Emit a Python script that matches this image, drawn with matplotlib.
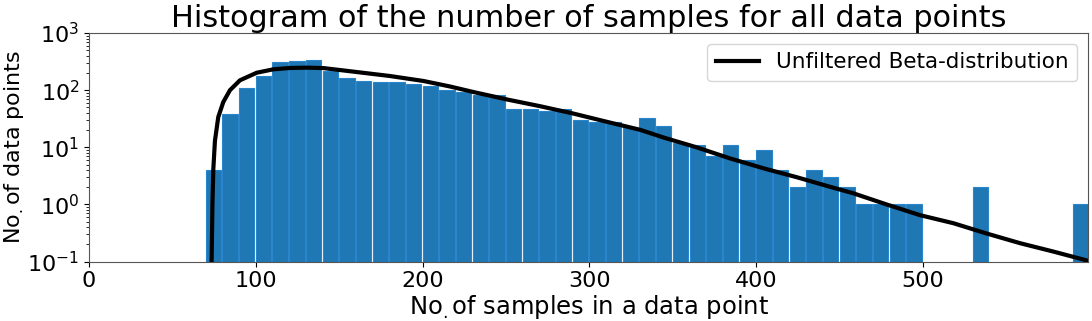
import numpy as np
import matplotlib
matplotlib.use("Agg")
import matplotlib.pyplot as plt

# Histogram bins (left edges, width 10) and counts
bin_left = [70, 80, 90, 100, 110, 120, 130, 140, 150, 160, 170, 180, 190,
            200, 210, 220, 230, 240, 250, 260, 270, 280, 290, 300, 310, 320,
            330, 340, 350, 360, 370, 380, 390, 400, 410, 420, 430, 440, 450,
            460, 470, 480, 490, 530, 590]
counts = [4, 38, 108, 180, 308, 324, 337, 220, 166, 143, 139, 137, 126,
          118, 100, 93, 81, 83, 46, 46, 44, 46, 30, 28, 28, 22,
          33, 24, 12, 11, 7, 11, 6, 9, 4, 2, 4, 3, 2,
          1, 1, 1, 1, 2, 1]
bin_width = 10

# Fitted (unfiltered) Beta-distribution curve
beta_x = [73.5, 74.0, 74.5, 75.5, 77.5, 80.5, 84.5, 90.5, 100.5, 110.5,
          120.5, 130.5, 140.5, 160.5, 180.5, 200.5, 216.5, 230.4, 250.4,
          270.4, 290.4, 310.4, 330.3, 344.3, 364.3, 384.3, 404.3, 424.3,
          444.2, 458.2, 478.2, 498.2, 518.2, 538.2, 558.2, 578.1, 598.1, 599.5]
beta_y = [0.1, 1.0, 4.0, 13.0, 34.0, 62.0, 100.0, 149.0, 202.0, 232.0,
          245.0, 248.0, 244.0, 208.0, 177.0, 145.0, 116.0, 93.0, 69.0,
          52.5, 39.0, 28.0, 20.3, 14.9, 10.0, 6.4, 4.3, 3.0,
          2.04, 1.57, 1.0, 0.65, 0.47, 0.31, 0.21, 0.15, 0.105, 0.08]

x_ticks = [0, 100, 200, 300, 400, 500]

fig = plt.figure(figsize=(10.92, 3.21), dpi=100)
ax = fig.add_axes([0.0815, 0.185, 0.915, 0.712])

ax.bar(bin_left, counts, width=bin_width * 0.92, align='edge',
       color='#1f77b4', edgecolor='#2a86cc', linewidth=0.8, zorder=1)
ax.plot(beta_x, beta_y, color='black', linewidth=3,
        label='Unfiltered Beta-distribution', zorder=3)

ax.set_yscale('log')
ax.set_ylim(0.1, 1000)
ax.set_xlim(0, 599)
ax.set_xticks(x_ticks)
ax.tick_params(axis='both', labelsize=16)
ax.set_title('Histogram of the number of samples for all data points',
             fontsize=21.8, pad=3)
ax.set_xlabel(r'No$_.$of samples in a data point', fontsize=17.5, labelpad=1)
ax.set_ylabel(r'No$_.$of data points', fontsize=16, labelpad=1)
ax.legend(loc='upper right', fontsize=15.5, framealpha=0.8)
for s in ax.spines.values():
    s.set_color('#555555')

fig.savefig('out.png', dpi=100)
